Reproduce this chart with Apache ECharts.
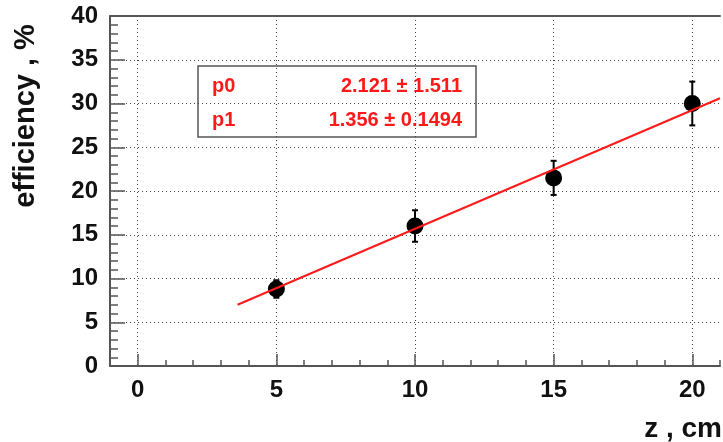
<!DOCTYPE html>
<html>
<head>
<meta charset="utf-8">
<script src="https://cdn.jsdelivr.net/npm/echarts@6/dist/echarts.min.js"></script>
<style>
html,body{margin:0;padding:0;background:#fff;}
#chart{width:723px;height:442px;}
</style>
</head>
<body>
<div id="chart"></div>
<script>
const xMajorTicks = [0, 5, 10, 15, 20];
const zValues = [5, 10, 15, 20];
const effValues = [8.8, 16.0, 21.5, 30.0];
const effErrors = [1.0, 1.8, 1.95, 2.5];
const fitX = [3.6, 21];
const fitY = [7.0, 30.6];
const statNames = ['p0', 'p1'];
const statValues = ['2.121 \u00b1 1.511', '1.356 \u00b1 0.1494'];
const xTitle = 'z , cm';
const yTitle = 'efficiency , %';

const FONT = '"Liberation Sans", Arial, sans-serif';
const AXIS_COLOR = '#555';
const GRID_STYLE = { color: '#444', width: 1, type: [1, 3] };

const points = zValues.map((z, i) => [z, effValues[i], effErrors[i]]);
const fitLine = fitX.map((x, i) => [x, fitY[i]]);

const chart = echarts.init(document.getElementById('chart'));
chart.setOption({
  animation: false,
  backgroundColor: '#fff',
  grid: { left: 110, right: 0, top: 16, bottom: 76 },
  xAxis: [
    {
      type: 'value', min: -1, max: 21, interval: 1, position: 'bottom',
      axisLine: { show: true, onZero: false, lineStyle: { color: AXIS_COLOR, width: 2 } },
      axisTick: { show: true, inside: true, length: 6, lineStyle: { color: AXIS_COLOR, width: 1.5 } },
      axisLabel: {
        show: true, margin: 12, color: '#111',
        fontFamily: FONT, fontWeight: 'bold', fontSize: 24,
        formatter: v => (xMajorTicks.indexOf(v) >= 0 ? String(v) : '')
      },
      splitLine: { show: false }
    },
    {
      type: 'value', min: -1, max: 21, position: 'bottom',
      axisLine: { show: false, onZero: false },
      axisTick: { show: true, inside: true, length: 12, customValues: xMajorTicks, lineStyle: { color: AXIS_COLOR, width: 1.5 } },
      axisLabel: { show: false },
      splitLine: { show: true, lineStyle: GRID_STYLE }
    },
    {
      type: 'value', min: -1, max: 21, position: 'top',
      axisLine: { show: true, onZero: false, lineStyle: { color: AXIS_COLOR, width: 2 } },
      axisTick: { show: false }, axisLabel: { show: false }, splitLine: { show: false }
    }
  ],
  yAxis: [
    {
      type: 'value', min: 0, max: 40, interval: 5, position: 'left',
      axisLine: { show: true, onZero: false, lineStyle: { color: AXIS_COLOR, width: 2 } },
      axisTick: { show: true, inside: true, length: 15, lineStyle: { color: AXIS_COLOR, width: 1.5 } },
      minorTick: { show: true, splitNumber: 5, length: 8, lineStyle: { color: AXIS_COLOR, width: 1.5 } },
      axisLabel: { show: true, margin: 12, color: '#111', fontFamily: FONT, fontWeight: 'bold', fontSize: 24 },
      splitLine: { show: true, lineStyle: GRID_STYLE }
    }
  ],
  series: [
    {
      type: 'custom', xAxisIndex: 0, yAxisIndex: 0, z: 3,
      data: points,
      renderItem: function (params, api) {
        const x = api.value(0), y = api.value(1), e = api.value(2);
        const top = api.coord([x, y + e]);
        const bot = api.coord([x, y - e]);
        const cap = 3;
        const st = { stroke: '#000', lineWidth: 2 };
        return {
          type: 'group',
          children: [
            { type: 'line', shape: { x1: top[0], y1: top[1], x2: bot[0], y2: bot[1] }, style: st },
            { type: 'line', shape: { x1: top[0] - cap, y1: top[1], x2: top[0] + cap, y2: top[1] }, style: st },
            { type: 'line', shape: { x1: bot[0] - cap, y1: bot[1], x2: bot[0] + cap, y2: bot[1] }, style: st }
          ]
        };
      }
    },
    {
      type: 'scatter', xAxisIndex: 0, yAxisIndex: 0, z: 4,
      data: points.map(p => [p[0], p[1]]),
      symbol: 'circle', symbolSize: 17,
      itemStyle: { color: '#000', opacity: 1 }
    },
    {
      type: 'line', xAxisIndex: 0, yAxisIndex: 0, z: 5,
      data: fitLine, showSymbol: false, symbol: 'none',
      lineStyle: { color: '#ff1a1a', width: 2 }
    }
  ],
  graphic: [
    {
      type: 'group', z: 100,
      children: [
        { type: 'rect', shape: { x: 198, y: 66, width: 278, height: 71 }, style: { fill: '#fff', stroke: AXIS_COLOR, lineWidth: 1.5 } },
        { type: 'text', x: 212, y: 86, style: { text: statNames[0], fill: '#ff1a1a', font: 'bold 20px ' + FONT, align: 'left', verticalAlign: 'middle' } },
        { type: 'text', x: 212, y: 120, style: { text: statNames[1], fill: '#ff1a1a', font: 'bold 20px ' + FONT, align: 'left', verticalAlign: 'middle' } },
        { type: 'text', x: 462, y: 86, style: { text: statValues[0], fill: '#ff1a1a', font: 'bold 20px ' + FONT, align: 'right', verticalAlign: 'middle' } },
        { type: 'text', x: 462, y: 120, style: { text: statValues[1], fill: '#ff1a1a', font: 'bold 20px ' + FONT, align: 'right', verticalAlign: 'middle' } }
      ]
    },
    {
      type: 'text', x: 722, y: 429,
      style: { text: xTitle, fill: '#111', font: 'bold 28px ' + FONT, align: 'right', verticalAlign: 'middle' }
    },
    {
      type: 'text', x: 26, y: 116, rotation: Math.PI / 2,
      style: { text: yTitle, fill: '#111', font: 'bold 29px ' + FONT, align: 'center', verticalAlign: 'middle' }
    }
  ]
});
</script>
</body>
</html>
